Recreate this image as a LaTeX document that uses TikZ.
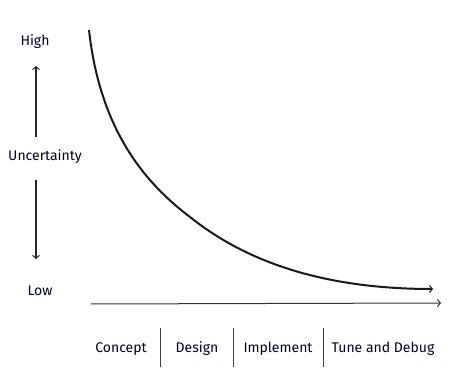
\documentclass[tikz,border=0pt]{standalone}
\usepackage{fontspec}
\setmainfont{Fira Sans}
\usetikzlibrary{arrows.meta}
\begin{document}
\begin{tikzpicture}[x=1pt,y=-1pt,
  lbl/.style={font=\fontsize{14}{16}\selectfont, text=black!85!blue, inner sep=0pt},
  barb/.style={-{Straight Barb[length=3pt,width=7pt,line width=1pt]}},
  thinarrow/.style={line width=1.1pt, draw=black!85, barb},
  curveline/.style={line width=2pt, draw=black!90, barb},
  axisline/.style={line width=1pt, draw=black!80, barb},
  sep/.style={line width=0.9pt, draw=black!75}]
\useasboundingbox (0,0) rectangle (451,369);
% left axis
\node[lbl] (high) at (35,42) {High};
\node[lbl] (unc) at (45,157) {Uncertainty};
\node[lbl] (low) at (40,291) {Low};
\coordinate (upS) at (36,137);
\coordinate (upE) at (36,66);
\coordinate (dnS) at (36,180);
\coordinate (dnE) at (36,259);
\draw[thinarrow] (upS) -- (upE);
\draw[thinarrow] (dnS) -- (dnE);
% curve
\coordinate (c0) at (89,30);
\coordinate (c1) at (190,217);
\coordinate (c2) at (433,289);
\draw[curveline] (c0) .. controls (100,130) and (145,183) .. (c1)
  .. controls (250,265) and (330,289) .. (c2);
% x axis
\coordinate (axS) at (91,304);
\coordinate (axE) at (441,303);
\draw[axisline] (axS) -- (axE);
% phases
\node[lbl] (p1) at (121,349) {Concept};
\node[lbl] (p2) at (197,349) {Design};
\node[lbl] (p3) at (278,349) {Implement};
\node[lbl] (p4) at (383,349) {Tune and Debug};
\coordinate (s1a) at (160,328); \coordinate (s1b) at (160,367);
\coordinate (s2a) at (233,328); \coordinate (s2b) at (233,367);
\coordinate (s3a) at (323,328); \coordinate (s3b) at (323,367);
\draw[sep] (s1a) -- (s1b);
\draw[sep] (s2a) -- (s2b);
\draw[sep] (s3a) -- (s3b);
\end{tikzpicture}
\end{document}
